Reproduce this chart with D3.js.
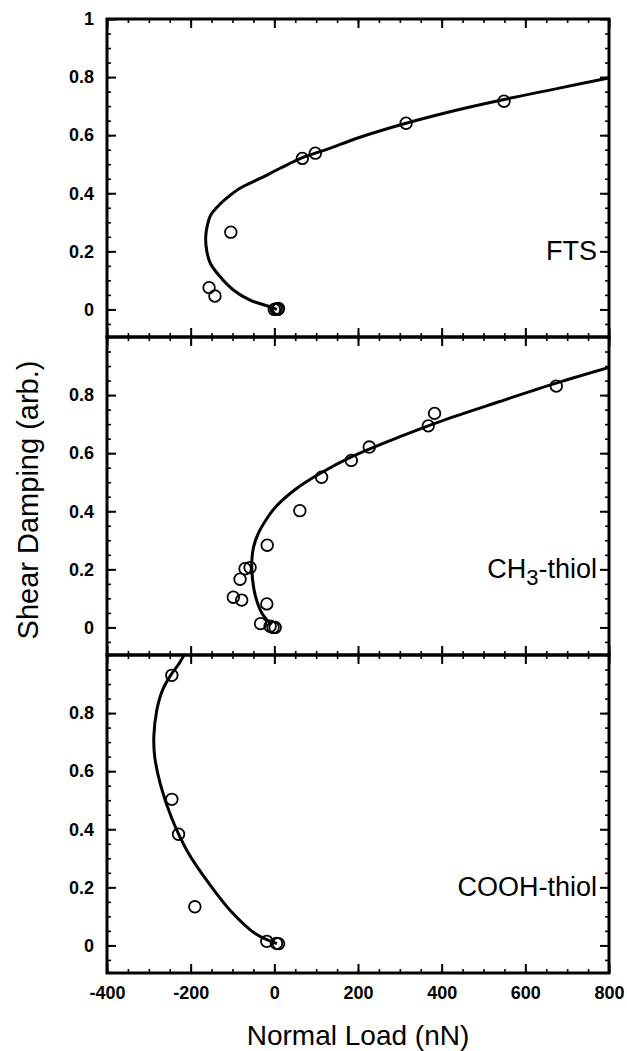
<!DOCTYPE html>
<html>
<head>
<meta charset="utf-8">
<script src="https://cdn.jsdelivr.net/npm/d3@7"></script>
<style>
  body { margin: 0; background: #fff; }
  svg text { font-family: "Liberation Sans", Arial, Helvetica, sans-serif; fill: #000; }
</style>
</head>
<body>
<div id="chart"></div>
<script>
// tick values
const xTicks = [-400, -200, 0, 200, 400, 600, 800];
const yTicksTop = [0, 0.2, 0.4, 0.6, 0.8, 1];
const yTicks = [0, 0.2, 0.4, 0.6, 0.8];

// FTS: measured points [load nN, damping]
const ftsPoints = [
  [-156, 0.075], [-142, 0.046], [-104, 0.266],
  [0, 0], [4, 0.002], [8, 0], [10, 0.003],
  [67, 0.52], [98, 0.538], [315, 0.641], [549, 0.717]
];
// FTS fit curve
const ftsFit = [
  [6, 0], [-10, 0.009], [-58, 0.032], [-98, 0.067], [-130, 0.113], [-153, 0.159],
  [-162, 0.205], [-164, 0.25], [-160, 0.29], [-152, 0.325], [-137, 0.352],
  [-114, 0.383], [-82, 0.417], [-34, 0.451], [14, 0.486], [63, 0.52],
  [127, 0.552], [203, 0.592], [315, 0.641], [432, 0.685],
  [549, 0.723], [681, 0.762], [800, 0.797]
];

// CH3-thiol
const ch3Points = [
  [-98, 0.104], [-78, 0.094], [-82, 0.166], [-70, 0.202], [-58, 0.206],
  [-17, 0.283], [-18, 0.081], [-33, 0.013], [-10, 0.004], [-3, 0], [2, 0],
  [61, 0.402], [113, 0.517], [184, 0.575], [227, 0.621], [368, 0.694],
  [383, 0.737], [674, 0.831]
];
const ch3Fit = [
  [-7, 0.009], [-30, 0.05], [-45, 0.107], [-52, 0.165], [-54, 0.223],
  [-50, 0.275], [-38, 0.325], [-20, 0.37], [3, 0.415], [50, 0.475],
  [108, 0.529], [184, 0.587], [299, 0.656], [394, 0.708], [537, 0.777],
  [674, 0.841], [800, 0.895]
];

// COOH-thiol
const coohPoints = [
  [-245, 0.93], [-245, 0.503], [-229, 0.383], [-190, 0.133],
  [-18, 0.014], [5, 0.007], [10, 0.006]
];
const coohFit = [
  [6, 0.006], [-45, 0.04], [-102, 0.115], [-159, 0.219], [-207, 0.322],
  [-245, 0.437], [-272, 0.553], [-286, 0.65], [-288, 0.72], [-281, 0.81],
  [-267, 0.88], [-248, 0.93], [-228, 0.97], [-213, 1.007], [-205, 1.03]
];

const panels = [
  { name: 'FTS', points: ftsPoints, fit: ftsFit, ticks: yTicksTop },
  { name: 'CH3-thiol', points: ch3Points, fit: ch3Fit, ticks: yTicks },
  { name: 'COOH-thiol', points: coohPoints, fit: coohFit, ticks: yTicks }
];

const width = 627, height = 1051;
const left = 107, right = 609, top0 = 19, panelH = 318;

const svg = d3.select('#chart').append('svg')
  .attr('width', width)
  .attr('height', height);

const x = d3.scaleLinear().domain([-400, 800]).range([left, right]);
const minorX = d3.range(-400, 801, 50);
const minorY = d3.range(-0.05, 1.001, 0.05).map(v => +v.toFixed(2));

const line = d3.line()
  .x(d => x(d[0]))
  .y(d => d.yScale(d[1]))
  .curve(d3.curveCatmullRom);

panels.forEach((p, i) => {
  const y0 = top0 + i * panelH;
  const y = d3.scaleLinear().domain([-0.095, 1.0]).range([y0 + panelH, y0]);
  const g = svg.append('g');

  const clipId = `clip${i}`;
  svg.append('clipPath').attr('id', clipId)
    .append('rect')
    .attr('x', left).attr('y', y0)
    .attr('width', right - left).attr('height', panelH);

  // minor ticks
  const minorGroups = [
    [d3.axisBottom(x).tickValues(minorX).tickSize(-4), `translate(0,${y0 + panelH})`],
    [d3.axisTop(x).tickValues(minorX).tickSize(-4), `translate(0,${y0})`],
    [d3.axisLeft(y).tickValues(minorY).tickSize(-4), `translate(${left},0)`],
    [d3.axisRight(y).tickValues(minorY).tickSize(-4), `translate(${right},0)`]
  ];
  minorGroups.forEach(([ax, tr]) => {
    g.append('g').attr('transform', tr)
      .call(ax.tickFormat(''))
      .call(s => s.select('.domain').remove())
      .selectAll('line').attr('stroke-width', 1.6);
  });

  // major ticks
  const majorGroups = [
    [d3.axisBottom(x).tickValues(xTicks), `translate(0,${y0 + panelH})`, i === 2],
    [d3.axisTop(x).tickValues(xTicks), `translate(0,${y0})`, false],
    [d3.axisLeft(y).tickValues(p.ticks), `translate(${left},0)`, true],
    [d3.axisRight(y).tickValues(p.ticks), `translate(${right},0)`, false]
  ];
  majorGroups.forEach(([ax, tr, labels]) => {
    const a = g.append('g').attr('transform', tr)
      .call(ax.tickSize(-9).tickPadding(labels ? 13 : 0)
        .tickFormat(labels ? (d => String(d)) : ''))
      .call(s => s.select('.domain').remove());
    a.selectAll('line').attr('stroke-width', 2);
    a.selectAll('text')
      .style('font-size', '18px')
      .style('font-weight', 'bold');
  });

  // frame
  g.append('rect')
    .attr('x', left).attr('y', y0)
    .attr('width', right - left).attr('height', panelH)
    .attr('fill', 'none')
    .attr('stroke', '#000')
    .attr('stroke-width', 3);

  // fit curve
  g.append('path')
    .datum(p.fit.map(d => Object.assign([d[0], d[1]], { yScale: y })))
    .attr('clip-path', `url(#${clipId})`)
    .attr('d', line)
    .attr('fill', 'none')
    .attr('stroke', '#000')
    .attr('stroke-width', 3);

  // data points
  g.selectAll('circle.pt')
    .data(p.points)
    .enter()
    .append('circle')
    .attr('class', 'pt')
    .attr('cx', d => x(d[0]))
    .attr('cy', d => y(d[1]))
    .attr('r', 5.8)
    .attr('fill', 'none')
    .attr('stroke', '#000')
    .attr('stroke-width', 1.8);

  // panel label
  const lbl = g.append('text')
    .attr('x', 597)
    .attr('y', y(0.2) + 9)
    .attr('text-anchor', 'end')
    .style('font-size', '27px');
  if (p.name === 'CH3-thiol') {
    lbl.append('tspan').text('CH');
    lbl.append('tspan').attr('dy', 7).style('font-size', '22px').text('3');
    lbl.append('tspan').attr('dy', -7).text('-thiol');
  } else {
    lbl.text(p.name);
  }
});

// axis titles
svg.append('text')
  .attr('x', 358)
  .attr('y', 1045)
  .attr('text-anchor', 'middle')
  .style('font-size', '28px')
  .text('Normal Load (nN)');

svg.append('text')
  .attr('transform', `translate(38,500) rotate(-90)`)
  .attr('text-anchor', 'middle')
  .style('font-size', '29px')
  .text('Shear Damping (arb.)');
</script>
</body>
</html>
